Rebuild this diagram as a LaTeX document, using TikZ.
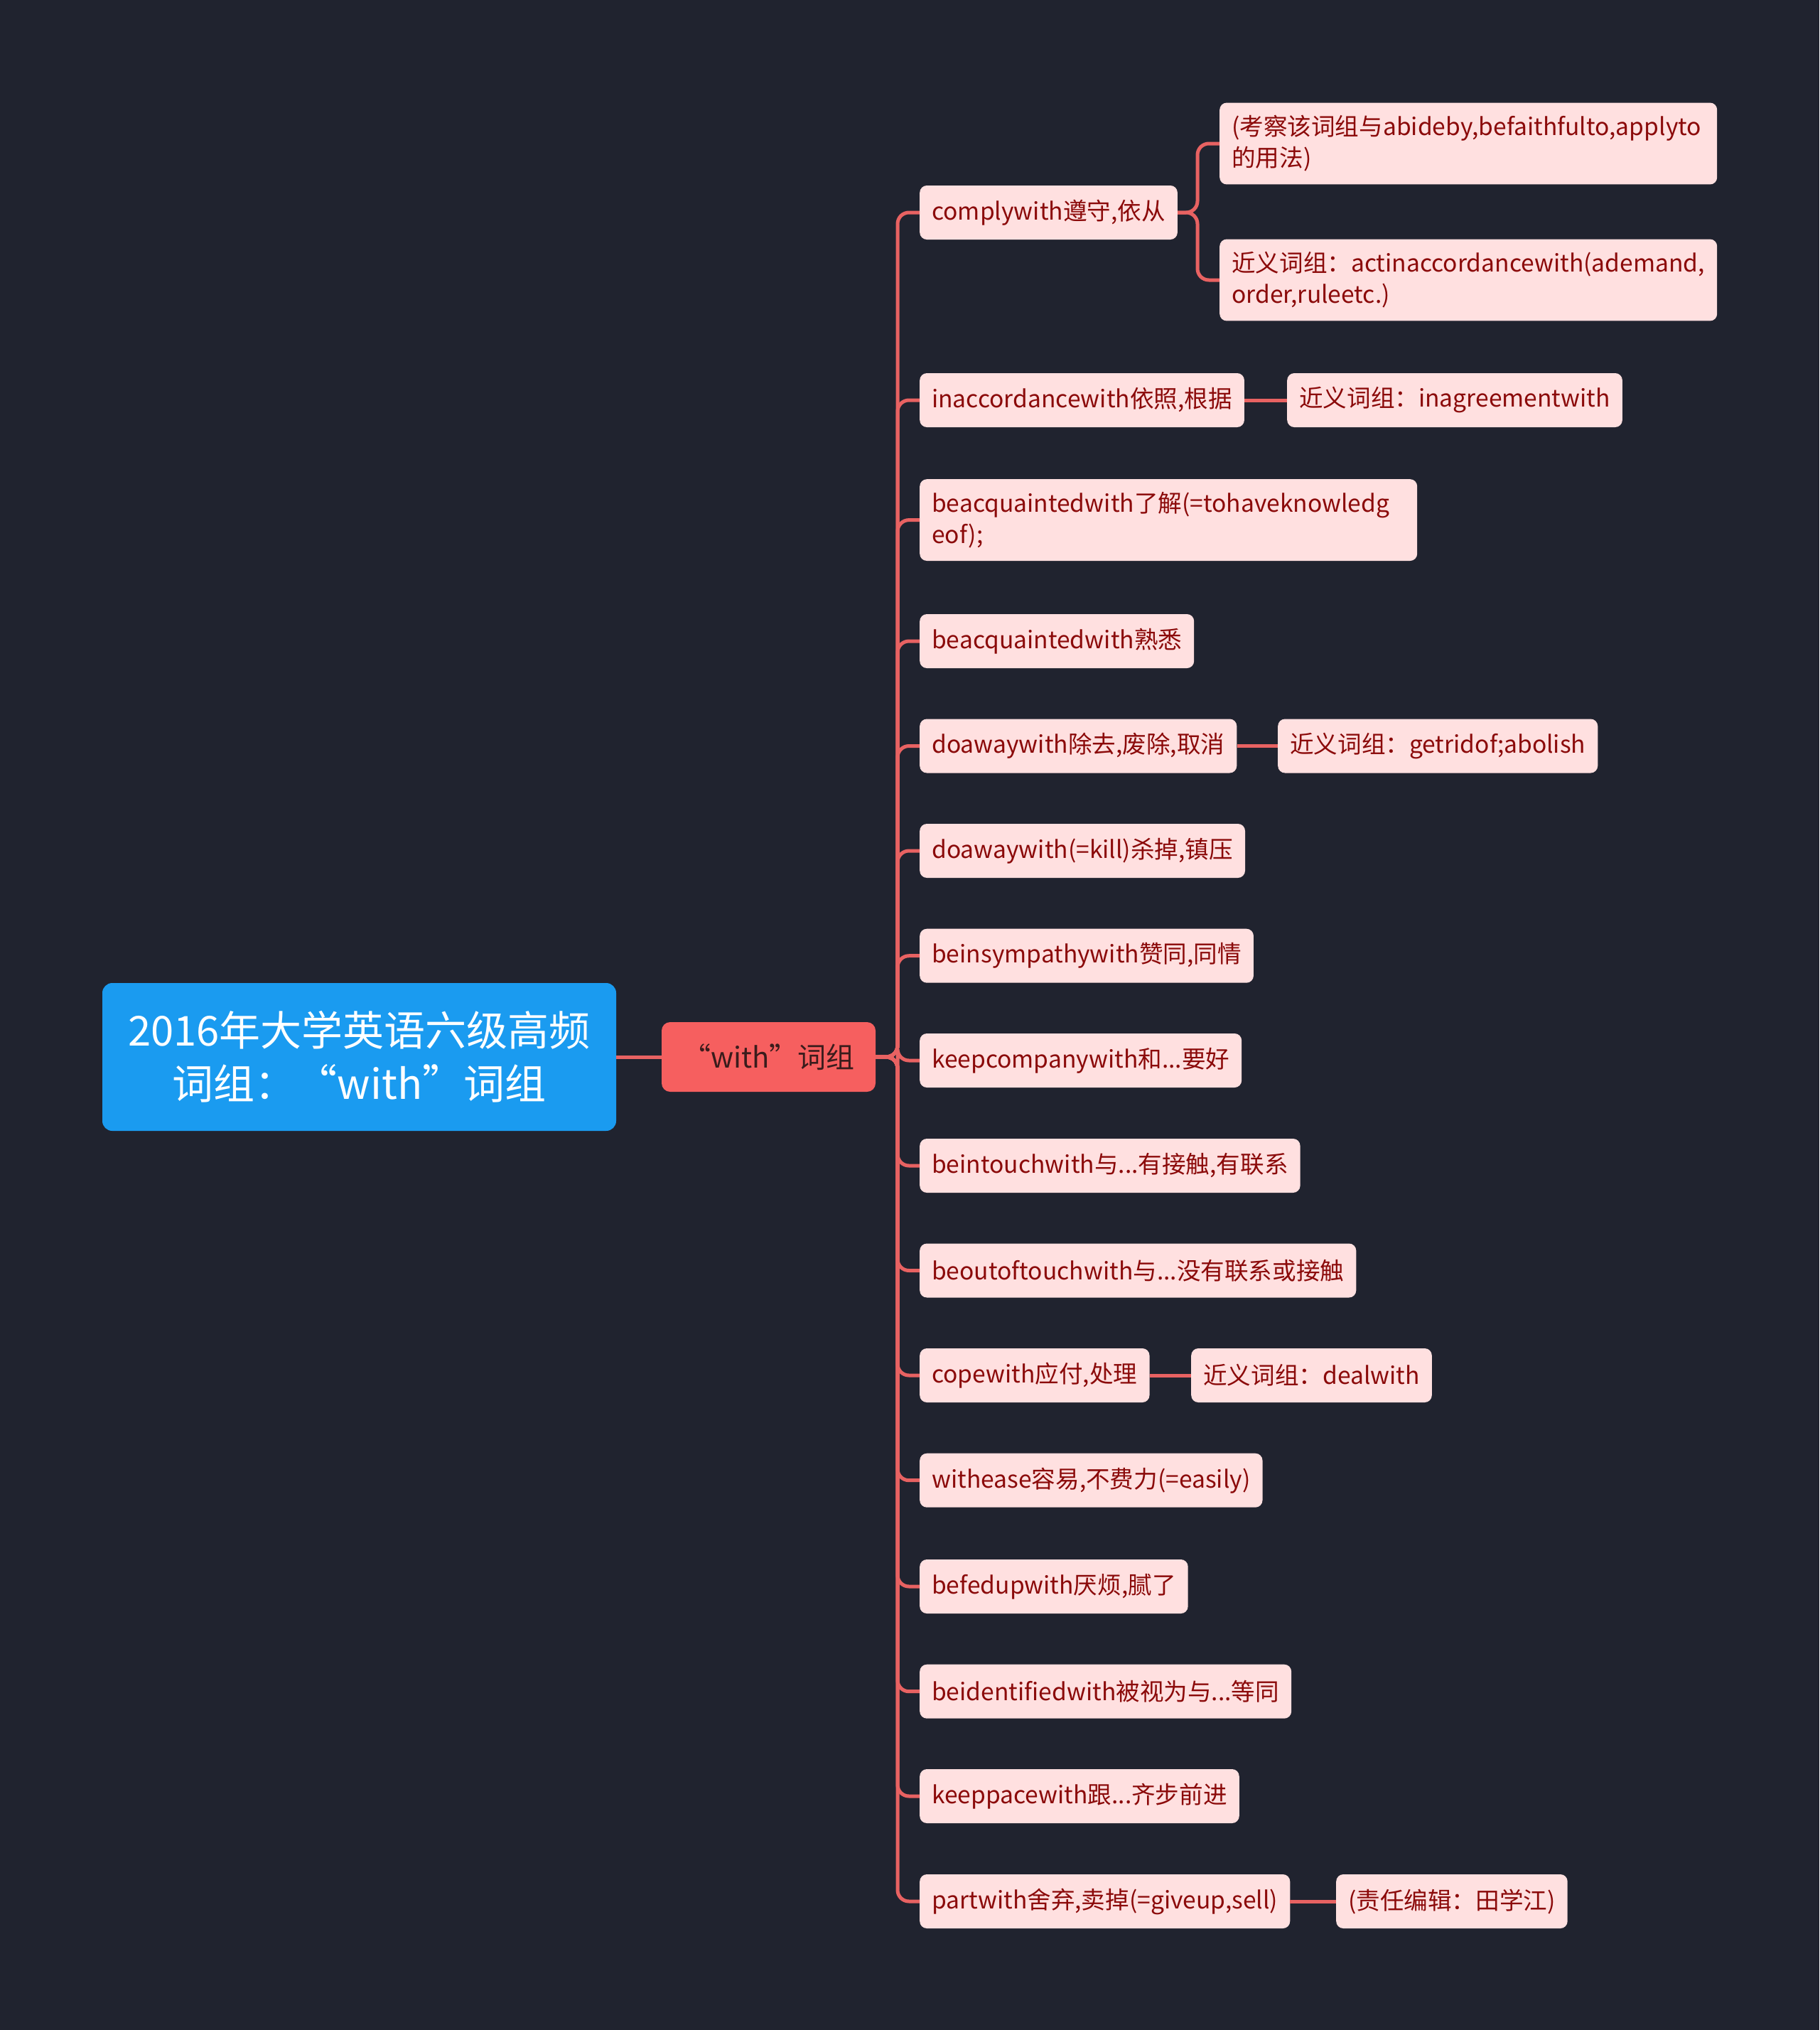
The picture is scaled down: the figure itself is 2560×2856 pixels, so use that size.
\documentclass[tikz,border=0pt]{standalone}
\usepackage{fontspec}
\setmainfont{Noto Sans CJK SC}
\definecolor{bg}{HTML}{20232F}
\definecolor{rootfill}{HTML}{1A9BF0}
\definecolor{midfill}{HTML}{F65F5F}
\definecolor{midtext}{HTML}{3A1C1C}
\definecolor{leaffill}{HTML}{FFE0E0}
\definecolor{leaftext}{HTML}{8B0A0A}
\definecolor{connc}{HTML}{E86262}
\begin{document}
\begin{tikzpicture}[x=1pt,y=-1pt,
  rootbox/.style={fill=rootfill, text=white, rounded corners=14pt, font=\fontsize{58}{75}\selectfont, minimum width=723pt, minimum height=208pt, align=center, inner sep=0pt},
  midbox/.style={fill=midfill, text=midtext, rounded corners=12pt, font=\fontsize{40}{48}\selectfont, minimum width=301pt, minimum height=98pt, inner sep=0pt},
  leaf/.style={fill=leaffill, text=leaftext, rounded corners=10pt, font=\fontsize{33.6}{44}\selectfont, inner xsep=17pt, inner ysep=18pt, minimum height=76pt, anchor=west, align=left},
  wide/.style={text width=666pt},
  conn/.style={draw=connc, line width=5pt, rounded corners=16pt}]
\fill[bg] (0,0) rectangle (2560,2856);
\useasboundingbox (0,0) rectangle (2560,2856);

\coordinate (sp) at (1263,1487);
\coordinate (b1) at (1685,299);

\node[rootbox] (r) at (505.5,1487) {2016年大学英语六级高频\\词组：“with”词组};
\node[midbox] (w) at (1081.5,1487) {“with”词组};

\node[leaf] (c1) at (1294,299) {complywith遵守,依从};
\node[leaf] (c2) at (1294,563) {inaccordancewith依照,根据};
\node[leaf, wide] (c3) at (1294,731.6) {beacquaintedwith了解(=tohaveknowledg\\eof);};
\node[leaf] (c4) at (1294,902) {beacquaintedwith熟悉};
\node[leaf] (c5) at (1294,1049.5) {doawaywith除去,废除,取消};
\node[leaf] (c6) at (1294,1197) {doawaywith(=kill)杀掉,镇压};
\node[leaf] (c7) at (1294,1344.7) {beinsympathywith赞同,同情};
\node[leaf] (c8) at (1294,1492) {keepcompanywith和...要好};
\node[leaf] (c9) at (1294,1640) {beintouchwith与...有接触,有联系};
\node[leaf] (c10) at (1294,1787.5) {beoutoftouchwith与...没有联系或接触};
\node[leaf] (c11) at (1294,1935) {copewith应付,处理};
\node[leaf] (c12) at (1294,2082.7) {withease容易,不费力(=easily)};
\node[leaf] (c13) at (1294,2232) {befedupwith厌烦,腻了};
\node[leaf] (c14) at (1294,2379.7) {beidentifiedwith被视为与...等同};
\node[leaf] (c15) at (1294,2527) {keeppacewith跟...齐步前进};
\node[leaf] (c16) at (1294,2675) {partwith舍弃,卖掉(=giveup,sell)};

\node[leaf, wide] (a1) at (1716,202) {(考察该词组与abideby,befaithfulto,applyto\\的用法)};
\node[leaf, wide] (a2) at (1716,394) {近义词组：actinaccordancewith(ademand,\\order,ruleetc.)};
\node[leaf] (a3) at (1811,563) {近义词组：inagreementwith};
\node[leaf] (a4) at (1798,1049.5) {近义词组：getridof;abolish};
\node[leaf] (a5) at (1676,1935) {近义词组：dealwith};
\node[leaf] (a6) at (1880,2675) {(责任编辑：田学江)};

\draw[conn] (r.east) -- (w.west);
\foreach \c in {c1,c2,c3,c4,c5,c6,c7,c8,c9,c10,c11,c12,c13,c14,c15,c16}
  \draw[conn] (w.east) -- (sp) |- (\c.west);
\draw[conn] (c1.east) -- (b1) |- (a1.west);
\draw[conn] (c1.east) -- (b1) |- (a2.west);
\draw[conn] (c2.east) -- (a3.west);
\draw[conn] (c5.east) -- (a4.west);
\draw[conn] (c11.east) -- (a5.west);
\draw[conn] (c16.east) -- (a6.west);
\end{tikzpicture}
\end{document}
